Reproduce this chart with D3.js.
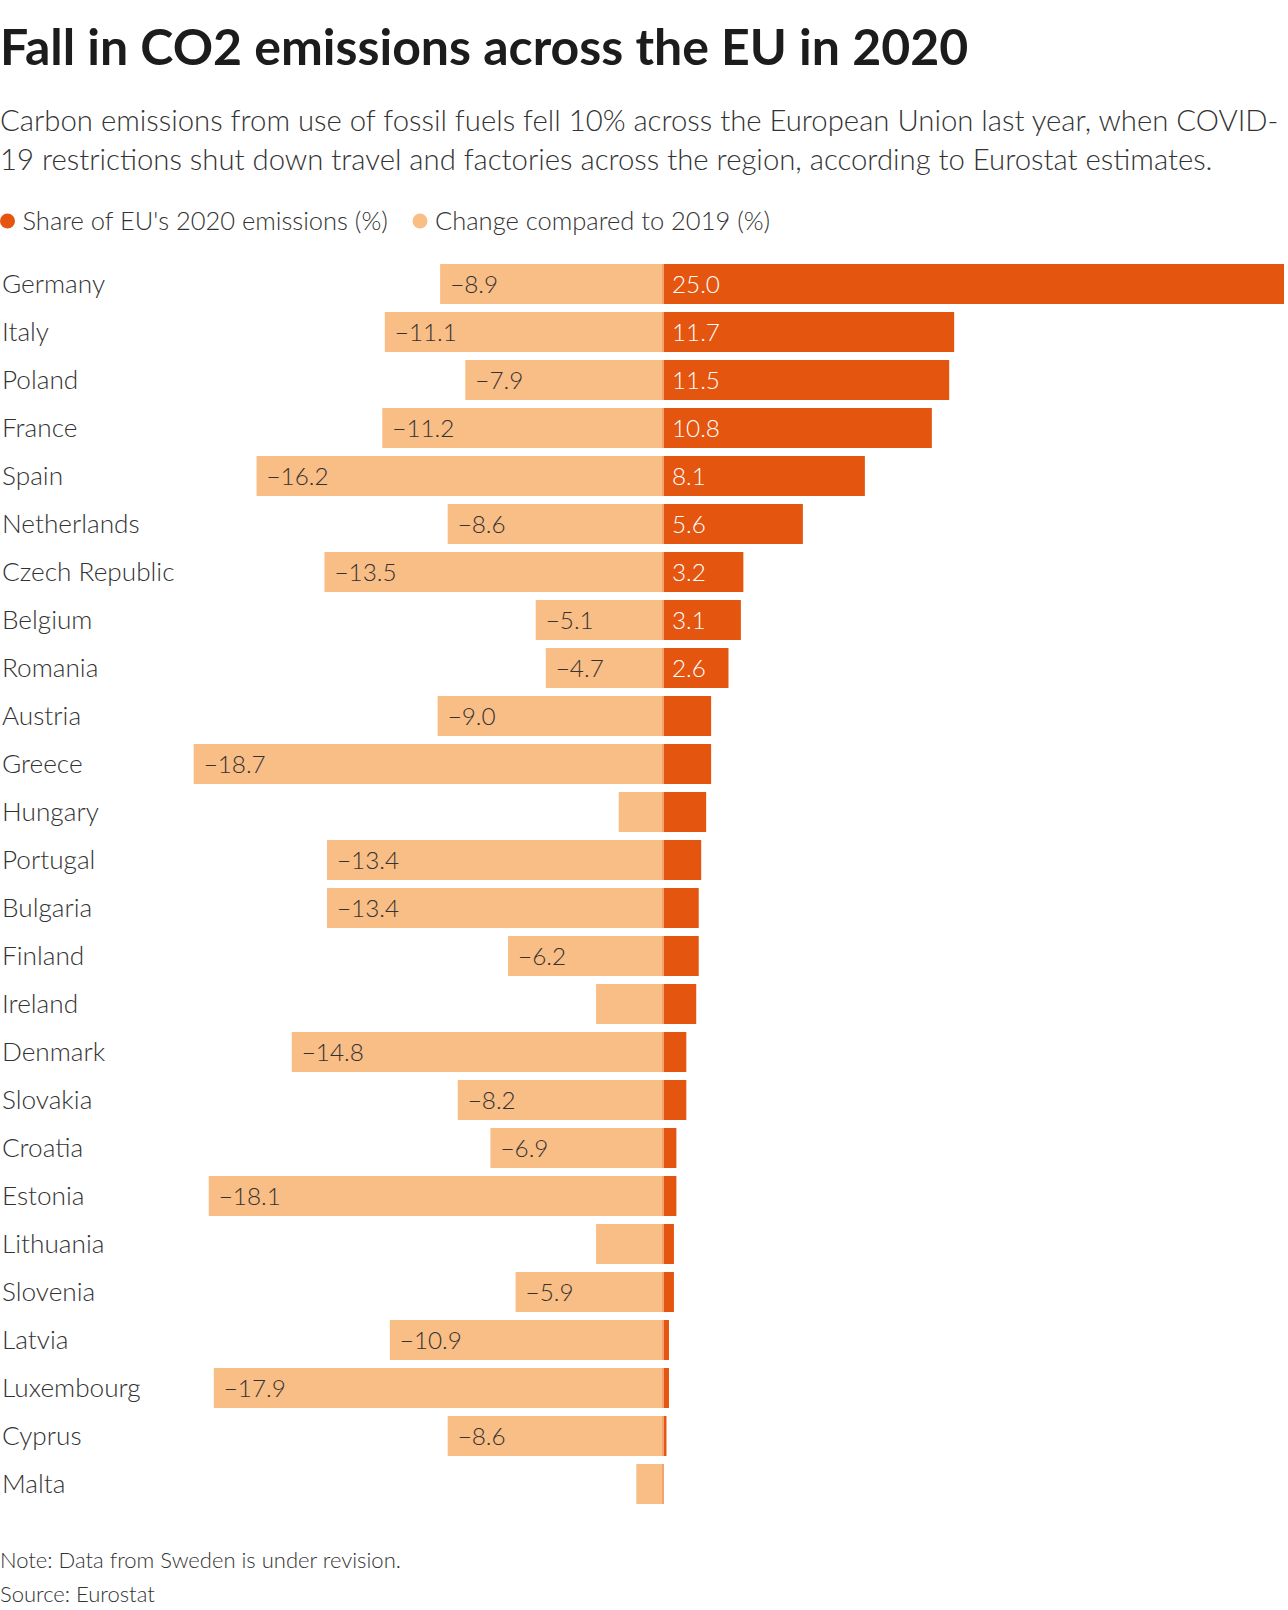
<!DOCTYPE html>
<html><head><meta charset="utf-8">
<script src="https://cdn.jsdelivr.net/npm/d3@7"></script>
<style>
body{margin:0;background:#fff;}
svg{display:block;font-family:Lato,"Noto Sans",sans-serif;}
</style>
</head><body>
<svg id="chart" width="1288" height="1610"></svg>
<script>
const countries = ["Germany","Italy","Poland","France","Spain","Netherlands","Czech Republic","Belgium","Romania","Austria","Greece","Hungary","Portugal","Bulgaria","Finland","Ireland","Denmark","Slovakia","Croatia","Estonia","Lithuania","Slovenia","Latvia","Luxembourg","Cyprus","Malta"];
const share = [25.0,11.7,11.5,10.8,8.1,5.6,3.2,3.1,2.6,1.9,1.9,1.7,1.5,1.4,1.4,1.3,0.9,0.9,0.5,0.5,0.4,0.4,0.2,0.2,0.1,0.0];
const change = [-8.9,-11.1,-7.9,-11.2,-16.2,-8.6,-13.5,-5.1,-4.7,-9.0,-18.7,-1.8,-13.4,-13.4,-6.2,-2.7,-14.8,-8.2,-6.9,-18.1,-2.7,-5.9,-10.9,-17.9,-8.6,-1.1];
const seriesNames = ["Share of EU's 2020 emissions (%)","Change compared to 2019 (%)"];
const titleText = "Fall in CO2 emissions across the EU in 2020";
const subtitleLines = ["Carbon emissions from use of fossil fuels fell 10% across the European Union last year, when COVID-","19 restrictions shut down travel and factories across the region, according to Eurostat estimates."];
const noteLines = ["Note: Data from Sweden is under revision.","Source: Eurostat"];

const colors = {share:"#e4550f", change:"#f9bd86", edge:"#f2a371"};
const svg = d3.select("#chart");

svg.append("text").attr("x",0).attr("y",65)
  .attr("font-size",50).attr("font-weight",700).attr("fill","#1c1c1c").text(titleText);

svg.selectAll("text.sub").data(subtitleLines).enter().append("text").attr("class","sub")
  .attr("x",0).attr("y",(d,i)=>131+i*39).attr("font-size",29.3).attr("font-weight",300)
  .attr("fill","#333").text(d=>d);

// legend
const legend = svg.append("g").attr("transform","translate(0,221)");
const legX = [7.5, 420];
const legC = [colors.share, colors.change];
seriesNames.forEach((n,i)=>{
  legend.append("circle").attr("cx",legX[i]).attr("cy",0).attr("r",7.5).attr("fill",legC[i]);
  legend.append("text").attr("x",legX[i]+15).attr("y",9).attr("font-size",25.5).attr("font-weight",300)
    .attr("fill","#333").text(n);
});

const x = d3.scaleLinear().domain([-26.4,0,25]).range([0,664,1284]);
const y = d3.scaleBand().domain(countries).range([264,264+48*countries.length-8]).paddingInner(8/48).paddingOuter(0);
const rows = countries.map((c,i)=>({c, s:share[i], ch:change[i]}));

const g = svg.append("g");
const row = g.selectAll("g.row").data(rows).enter().append("g").attr("class","row")
  .attr("transform",d=>`translate(0,${y(d.c)})`);
const bh = y.bandwidth();

row.append("rect").attr("x",d=>x(d.ch)).attr("y",0).attr("width",d=>x(0)-x(d.ch)).attr("height",bh).attr("fill",colors.change);
row.append("rect").attr("x",x(0)-2).attr("y",0).attr("width",2).attr("height",bh).attr("fill",colors.edge);
row.filter(d=>d.s>0).append("rect").attr("x",x(0)).attr("y",0).attr("width",d=>x(d.s)-x(0)).attr("height",bh).attr("fill",colors.share);

const fmt = d3.format(".1f");
row.append("text").attr("x",2).attr("y",bh/2).attr("dy","0.35em").attr("font-size",26.2).attr("font-weight",300)
  .attr("fill","#333").text(d=>d.c);
row.filter(d=>d.ch<=-3).append("text").attr("x",d=>x(d.ch)+10).attr("y",bh/2).attr("dy","0.37em")
  .attr("font-size",24.3).attr("font-weight",300).attr("fill","#333").text(d=>fmt(d.ch));
row.filter(d=>d.s>=2.5).append("text").attr("x",x(0)+8).attr("y",bh/2).attr("dy","0.37em")
  .attr("font-size",24.3).attr("font-weight",300).attr("fill","#fff").text(d=>fmt(d.s));

svg.selectAll("text.note").data(noteLines).enter().append("text").attr("class","note")
  .attr("x",0).attr("y",(d,i)=>1568+i*34).attr("font-size",22).attr("font-weight",300)
  .attr("fill","#333").text(d=>d);
</script>
</body></html>
